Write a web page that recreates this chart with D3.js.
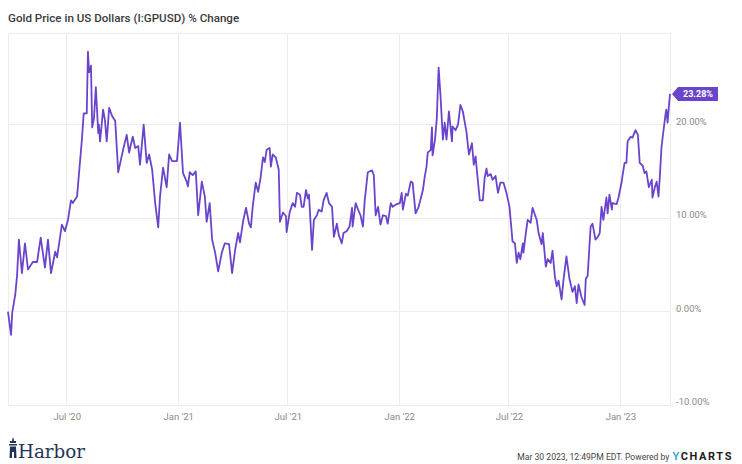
<!DOCTYPE html>
<html>
<head>
<meta charset="utf-8">
<script src="https://cdn.jsdelivr.net/npm/d3@7"></script>
<style>
  html, body { margin: 0; padding: 0; background: #fff; }
  svg { display: block; font-family: Roboto, "Noto Sans", sans-serif; }
</style>
</head>
<body>
<svg id="chart" width="742" height="464"></svg>
<script>
// ---------- DATA ----------
const title = "Gold Price in US Dollars (I:GPUSD) % Change";
const startDate = "2020-03-26";
const endOffset = 1093;
const dayOffsets = [0,5,7,12,15,18,23,28,33,41,48,54,61,66,71,78,81,89,94,99,104,107,114,122,125,130,132,134,137,139,142,145,149,150,152,157,160,163,167,172,177,182,190,196,200,203,206,210,215,218,224,229,233,238,243,248,251,256,262,266,271,279,284,289,295,297,300,305,310,314,320,325,328,333,337,342,347,353,358,365,370,375,380,383,388,393,398,401,404,409,413,417,421,424,427,432,434,437,442,447,449,454,459,460,465,470,474,477,482,485,488,492,495,497,502,505,510,513,518,521,526,530,535,538,543,546,551,554,559,564,568,569,574,578,582,586,589,594,601,604,607,611,615,619,624,627,632,635,642,647,650,652,657,660,665,668,673,678,685,688,691,693,698,700,701,705,708,711,714,718,721,724,728,733,734,739,743,747,751,757,761,766,769,772,774,779,784,787,790,792,797,800,805,809,813,818,823,828,833,837,840,843,846,850,851,855,858,863,866,873,876,881,883,888,891,896,899,903,906,909,914,917,922,927,932,936,939,942,947,952,954,957,962,965,970,974,977,980,983,988,990,993,997,998,1005,1008,1013,1015,1018,1021,1023,1028,1031,1036,1040,1043,1048,1051,1054,1058,1063,1064,1068,1071,1074,1076,1079,1081,1086,1087,1089,1091,1093];
const pctChange = [0.0,-2.5,-0.1,1.8,3.9,7.7,4.1,7.3,4.5,5.3,5.3,7.9,4.7,7.7,4.1,6.4,5.8,9.3,8.6,9.8,11.9,11.6,12.3,18.4,21.2,21.2,27.8,25.6,26.3,19.7,20.7,24.0,19.1,20.0,18.2,21.6,20.5,18.2,21.8,20.9,20.4,14.9,17.3,18.9,17.0,17.9,18.7,17.5,17.7,15.7,20.0,15.9,16.8,15.2,11.6,9.0,12.3,15.4,13.3,16.8,16.1,16.1,20.2,14.8,13.9,13.4,14.9,14.6,15.0,10.3,13.9,12.3,9.6,11.6,7.7,6.3,4.3,6.3,7.3,7.2,4.1,6.6,8.4,7.4,9.6,11.1,9.4,9.0,11.2,13.8,12.8,14.3,16.5,16.0,17.3,17.5,15.5,16.8,16.5,15.2,9.6,10.6,10.2,8.5,10.6,11.6,11.2,12.7,12.5,11.2,11.2,13.0,12.1,12.5,6.6,9.8,10.3,10.9,10.7,11.9,12.7,11.6,11.2,8.0,9.4,8.2,7.3,8.4,8.6,9.1,11.1,9.1,11.6,10.9,10.3,9.1,11.9,14.9,15.1,14.6,10.3,11.2,9.3,10.3,10.2,9.4,11.6,11.2,11.5,11.6,12.7,10.9,12.6,12.4,13.9,13.8,10.5,11.2,13.0,14.4,15.5,17.0,17.3,19.7,16.7,18.4,20.7,26.1,23.2,18.4,20.2,18.4,21.4,18.2,19.8,19.4,20.0,22.1,21.4,19.2,16.8,18.0,15.7,16.6,15.2,11.9,11.9,14.3,15.3,14.5,14.7,14.1,14.5,12.7,13.8,13.8,12.7,11.2,7.5,7.3,5.2,6.3,5.6,7.3,6.3,8.4,9.8,9.5,11.1,9.8,8.4,7.2,8.4,4.8,5.6,5.2,6.5,3.7,2.7,3.3,1.3,3.3,5.9,3.5,2.1,2.7,0.9,2.9,1.5,0.7,3.5,3.8,9.1,9.4,7.7,8.0,8.4,11.2,9.8,12.2,10.5,12.5,10.9,11.6,11.5,12.2,13.8,14.7,15.9,15.9,18.2,18.7,18.6,19.4,18.9,15.9,15.6,14.8,15.0,13.3,14.1,12.2,13.3,13.9,12.3,14.2,17.6,18.7,21.3,21.6,20.2,21.8,23.28];
const xTickDates = ["2020-07-01","2021-01-01","2021-07-01","2022-01-01","2022-07-01","2023-01-01"];
const xTickLabels = ["Jul '20","Jan '21","Jul '21","Jan '22","Jul '22","Jan '23"];
const yTickValues = [20, 10, 0, -10];
const yTickLabels = ["20.00%","10.00%","0.00%","-10.00%"];
const lastLabel = "23.28%";
const footerStamp = "Mar 30 2023, 12:49PM EDT. Powered by";

// ---------- LAYOUT ----------
const W = 742, H = 464;
const plot = { left: 8, right: 670, top: 33, bottom: 405 };
const lineColor = "#6a45cb";
const gridColor = "#ececec";

const parse = d3.timeParse("%Y-%m-%d");
const start = parse(startDate);
const data = dayOffsets.map((o, i) => ({ date: d3.timeDay.offset(start, o), v: pctChange[i] }));

const x = d3.scaleTime()
  .domain([start, d3.timeDay.offset(start, endOffset)])
  .range([plot.left, plot.right]);
const y = d3.scaleLinear()
  .domain([-10, 29.8])
  .range([plot.bottom, plot.top]);

const svg = d3.select("#chart");

// title
svg.append("text")
  .attr("x", 8).attr("y", 22)
  .attr("font-size", 11.6).attr("font-weight", 500)
  .attr("fill", "#3a3a3a")
  .text(title);

// grid
const g = svg.append("g");
g.selectAll("line.vg").data(xTickDates).join("line")
  .attr("x1", d => x(parse(d))).attr("x2", d => x(parse(d)))
  .attr("y1", plot.top).attr("y2", plot.bottom)
  .attr("stroke", gridColor).attr("stroke-width", 1).attr("shape-rendering", "crispEdges");
g.selectAll("line.hg").data(yTickValues).join("line")
  .attr("x1", plot.left).attr("x2", plot.right)
  .attr("y1", d => y(d)).attr("y2", d => y(d))
  .attr("stroke", gridColor).attr("stroke-width", 1).attr("shape-rendering", "crispEdges");
g.append("rect")
  .attr("x", plot.left).attr("y", plot.top)
  .attr("width", plot.right - plot.left).attr("height", plot.bottom - plot.top)
  .attr("fill", "none").attr("stroke", gridColor).attr("shape-rendering", "crispEdges");

// x axis labels
const xAxis = d3.axisBottom(x)
  .tickValues(xTickDates.map(parse))
  .tickFormat((d, i) => xTickLabels[i])
  .tickSize(0).tickPadding(8);
svg.append("g").attr("transform", `translate(0,${plot.bottom})`).call(xAxis)
  .call(s => s.select(".domain").remove())
  .selectAll("text").attr("font-size", 9.5).attr("fill", "#8a8a8a")
  .attr("font-family", "Roboto, sans-serif");

// y axis labels (right)
const yAxis = d3.axisRight(y)
  .tickValues(yTickValues)
  .tickFormat((d, i) => yTickLabels[i])
  .tickSize(0).tickPadding(6);
svg.append("g").attr("transform", `translate(${plot.right},0)`).call(yAxis)
  .call(s => s.select(".domain").remove())
  .selectAll("text").attr("font-size", 9.5).attr("fill", "#8a8a8a")
  .attr("dy", "-0.05em")
  .attr("font-family", "Roboto, sans-serif");

// line
const line = d3.line().x(d => x(d.date)).y(d => y(d.v));
svg.append("path").datum(data)
  .attr("d", line).attr("fill", "none")
  .attr("stroke", lineColor).attr("stroke-width", 1.8)
  .attr("stroke-linejoin", "round");

// last value tag
const last = data[data.length - 1];
const ty = y(last.v), tx = x(last.date) + 2;
const tagW = 40, tagH = 14;
svg.append("path")
  .attr("d", `M${tx},${ty} L${tx + 6},${ty - tagH / 2} L${tx + 6 + tagW},${ty - tagH / 2} L${tx + 6 + tagW},${ty + tagH / 2} L${tx + 6},${ty + tagH / 2} Z`)
  .attr("fill", lineColor);
svg.append("text")
  .attr("x", tx + 6 + tagW / 2).attr("y", ty + 3.3)
  .attr("text-anchor", "middle").attr("font-size", 9).attr("font-weight", 700)
  .attr("fill", "#fff").text(lastLabel);

// footer: Harbor logo
const logo = svg.append("g").attr("transform", "translate(8,438)").attr("fill", "#233456");
logo.append("path").attr("d", "M4.5,0 L5.5,0 L6,3 L8,3 L8,5 L2,5 L2,3 L4,3 Z");
logo.append("path").attr("d", "M1,6 L9,6 L9,7.5 L1,7.5 Z");
logo.append("path").attr("d", "M2,8.5 L8,8.5 L8.5,20 L6,20 L6,14 L4,14 L4,20 L1.5,20 Z");
svg.append("text")
  .attr("x", 18).attr("y", 458)
  .attr("font-family", "'DejaVu Serif', 'Liberation Serif', serif")
  .attr("font-size", 18.3).attr("fill", "#233456")
  .text("Harbor");

// footer: stamp + YCHARTS
const brand = svg.append("text").attr("y", 460).attr("text-anchor", "end")
  .attr("x", 733).attr("font-size", 11).attr("font-weight", 700)
  .attr("letter-spacing", 1.6);
brand.append("tspan").attr("fill", "#39a6e0").text("Y");
brand.append("tspan").attr("fill", "#1b1b1b").text("CHARTS");
const bw = brand.node().getComputedTextLength();
svg.append("text")
  .attr("x", 733 - bw - 3).attr("y", 460).attr("text-anchor", "end")
  .attr("font-size", 8.6).attr("fill", "#444")
  .text(footerStamp);
</script>
</body>
</html>
